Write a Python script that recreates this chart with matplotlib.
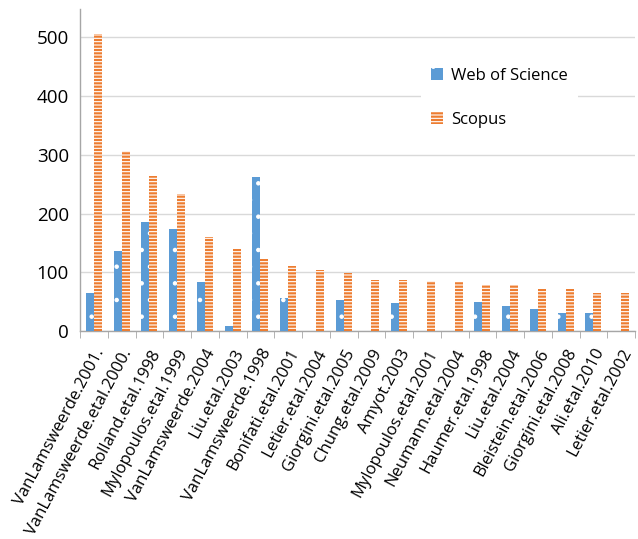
import numpy as np
import matplotlib
matplotlib.use("Agg")
import matplotlib.pyplot as plt
from matplotlib.ticker import FixedLocator

plt.rcParams['font.family'] = ['Open Sans', 'DejaVu Sans']
plt.rcParams['hatch.color'] = 'white'
plt.rcParams['hatch.linewidth'] = 0.8

papers = ["VanLamsweerde.2001.", "VanLamsweerde.etal.2000.", "Rolland.etal.1998",
          "Mylopoulos.etal.1999", "VanLamsweerde.2004", "Liu.etal.2003",
          "VanLamsweerde.1998", "Bonifati.etal.2001", "Letier.etal.2004",
          "Giorgini.etal.2005", "Chung.etal.2009", "Amyot.2003",
          "Mylopoulos.etal.2001", "Neumann.etal.2004", "Haumer.etal.1998",
          "Liu.etal.2004", "Bleistein.etal.2006", "Giorgini.etal.2008",
          "Ali.etal.2010", "Letier.etal.2002"]
wos = [65, 136, 186, 174, 83, 9, 263, 56, 0, 52, 0, 48, 0, 0, 50, 42, 38, 31, 31, 0]
scopus = [506, 306, 264, 234, 160, 139, 122, 111, 104, 98, 86, 86, 85, 83, 79, 78, 72, 72, 65, 65]

blue = '#5B9BD5'
orange = '#ED7D31'

fig = plt.figure(figsize=(6.38, 5.39), dpi=100)
ax = fig.add_axes([0.1254, 0.386, 0.870, 0.597])

x = np.arange(len(papers))
w = 0.29
ax.bar(x - w / 2, wos, width=w, color=blue, hatch='.', label='Web of Science', zorder=3)
ax.bar(x + w / 2, scopus, width=w, color=orange, hatch='-----', label='Scopus', zorder=3)

ax.set_xlim(-0.5, len(papers) - 0.5)
ax.set_ylim(0, 548)
ax.yaxis.set_major_locator(FixedLocator([0, 100, 200, 300, 400, 500]))
ax.grid(axis='y', color='#D9D9D9', linewidth=1.0, zorder=0)
ax.set_axisbelow(True)

for s in ['top', 'right']:
    ax.spines[s].set_visible(False)
for s in ['left', 'bottom']:
    ax.spines[s].set_color('#A6A6A6')
    ax.spines[s].set_linewidth(1.0)

ax.set_xticks(x)
ax.set_xticklabels(papers, rotation=62, ha='right', rotation_mode='anchor', fontsize=12)
ax.tick_params(axis='x', which='major', length=0, pad=11)
ax.xaxis.set_minor_locator(FixedLocator(np.arange(-0.5, len(papers), 1.0)))
ax.tick_params(axis='x', which='minor', length=5, color='#A6A6A6')
ax.tick_params(axis='y', length=0, labelsize=13.5, pad=8)

leg = ax.legend(loc='upper left', bbox_to_anchor=(0.6, 0.875), frameon=True,
                fontsize=12, handlelength=0.7, handleheight=0.7,
                labelspacing=1.7, borderpad=0.6, handletextpad=0.5)
leg.get_frame().set_facecolor('white')
leg.get_frame().set_edgecolor('none')
leg.get_frame().set_alpha(1)

fig.savefig('out.png', dpi=100)
